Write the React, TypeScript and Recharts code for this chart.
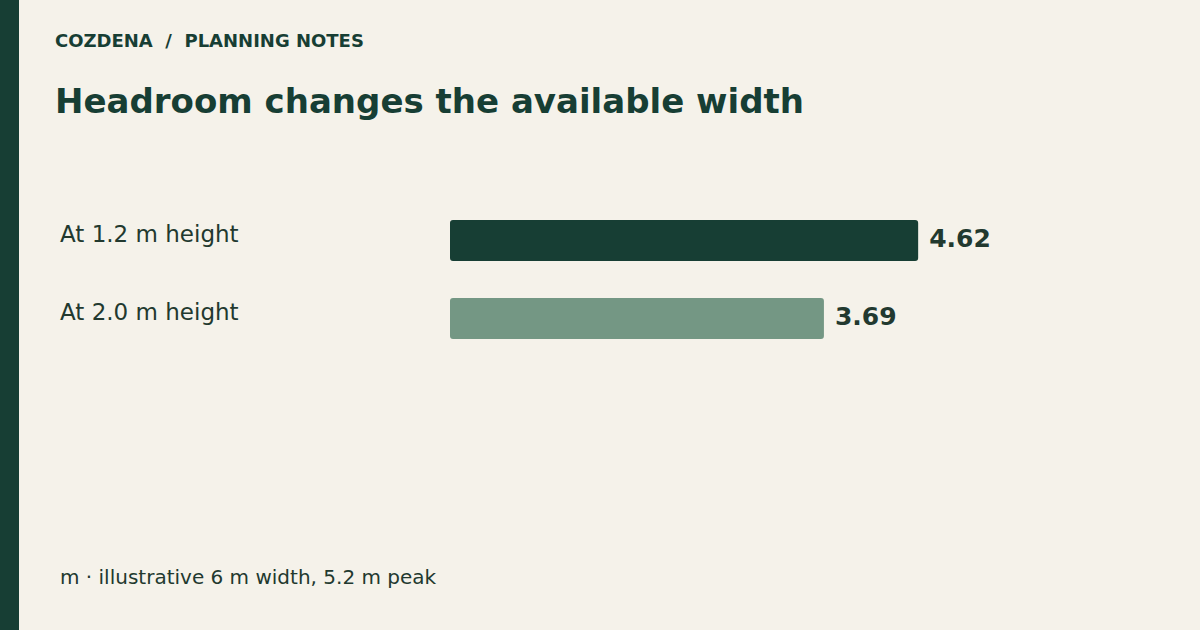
import { BarChart, Bar, XAxis, YAxis, Cell, LabelList } from 'recharts';

// values
const categories = ['At 1.2 m height', 'At 2.0 m height'];
const widths = [4.62, 3.69];
const axisMax = 6;

const barColors = ['#173e34', '#749784'];
const font = '"DejaVu Sans", sans-serif';

const rows = categories.map((label, i) => ({ label, width: widths[i] }));

function CategoryTick(props: any) {
  const { y, payload } = props;
  return (
    <text x={60} y={y + 2} fontSize={23} fill="#22392f" fontFamily={font} textAnchor="start">
      {payload.value}
    </text>
  );
}

function ValueLabel(props: any) {
  const { x, y, width, height, value } = props;
  return (
    <text
      x={x + width + 11}
      y={y + height / 2 + 6}
      fontSize={25}
      fontWeight="bold"
      fill="#22392f"
      fontFamily={font}
    >
      {Number(value).toFixed(2)}
    </text>
  );
}

export default function App() {
  return (
    <div
      style={{
        position: 'absolute',
        left: 0,
        top: 0,
        width: 1200,
        height: 630,
        background: '#f5f2ea',
        fontFamily: font,
        overflow: 'hidden',
      }}
    >
      <div style={{ position: 'absolute', left: 0, top: 0, width: 19, height: 630, background: '#173e34' }} />
      <div
        style={{
          position: 'absolute',
          left: 55,
          top: 30,
          fontSize: 18,
          fontWeight: 'bold',
          color: '#173e34',
          whiteSpace: 'pre',
          lineHeight: '22px',
        }}
      >
        {'COZDENA  /  PLANNING NOTES'}
      </div>
      <div
        style={{
          position: 'absolute',
          left: 55,
          top: 80,
          fontSize: 34,
          fontWeight: 'bold',
          color: '#173e34',
          lineHeight: '42px',
          whiteSpace: 'nowrap',
        }}
      >
        Headroom changes the available width
      </div>

      <div style={{ position: 'absolute', left: 0, top: 0 }}>
        <BarChart
          width={1200}
          height={357}
          data={rows}
          layout="vertical"
          margin={{ top: 201, right: 142, left: 0, bottom: 0 }}
        >
          <XAxis type="number" dataKey="width" domain={[0, axisMax]} hide />
          <YAxis
            type="category"
            dataKey="label"
            width={450}
            axisLine={false}
            tickLine={false}
            tick={<CategoryTick />}
          />
          <Bar dataKey="width" barSize={41} radius={3} isAnimationActive={false}>
            {rows.map((r, i) => (
              <Cell key={r.label} fill={barColors[i]} />
            ))}
            <LabelList dataKey="width" content={<ValueLabel />} />
          </Bar>
        </BarChart>
      </div>

      <div
        style={{
          position: 'absolute',
          left: 60,
          top: 565,
          fontSize: 20,
          color: '#22392f',
          lineHeight: '24px',
          whiteSpace: 'nowrap',
        }}
      >
        m · illustrative 6 m width, 5.2 m peak
      </div>
    </div>
  );
}
